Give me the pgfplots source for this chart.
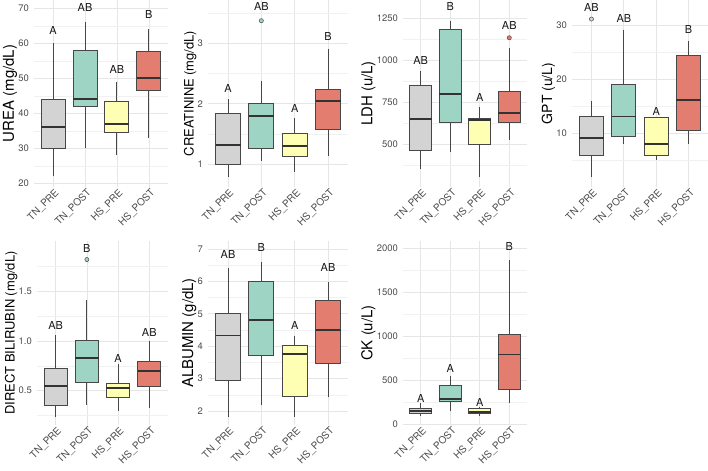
\documentclass[border=0pt]{standalone}
\usepackage{fontspec}
\setmainfont{TeX Gyre Heros}
\usepackage{pgfplots}
\pgfplotsset{compat=1.18}

% group fills
\definecolor{tnpre}{HTML}{D3D3D3}
\definecolor{tnpost}{HTML}{9DD4C4}
\definecolor{hspre}{HTML}{FFFFB3}
\definecolor{hspost}{HTML}{E27D70}
% lines and text
\definecolor{boxline}{HTML}{474747}
\definecolor{medline}{HTML}{333333}
\definecolor{gridmaj}{HTML}{E6E6E6}
\definecolor{gridmin}{HTML}{F1F1F1}
\definecolor{ticktext}{HTML}{4D4D4D}

\tikzset{lettr/.style={font=\fontsize{11}{12}\selectfont, text=black!90}}

\pgfplotsset{
  panel/.style={
    scale only axis, clip=false,
    xmin=0.4, xmax=4.6,
    xtick={1,2,3,4},
    xticklabels={TN\_PRE,TN\_POST,HS\_PRE,HS\_POST},
    axis line style={draw=none},
    major tick length=0pt, minor tick length=0pt,
    xmajorgrids, ymajorgrids, yminorgrids,
    major grid style={draw=gridmaj, line width=0.7pt},
    minor grid style={draw=gridmin, line width=0.4pt},
    tick label style={text=ticktext},
    xticklabel style={font=\fontsize{10}{11}\selectfont, rotate=45,
      anchor=north east, inner sep=0pt, yshift=-1.5bp},
    yticklabel style={font=\fontsize{9.5}{10}\selectfont, anchor=east,
      inner sep=0pt, xshift=-5bp},
    ylabel style={inner sep=1bp, text=black},
    /pgf/number format/assume math mode=true,
    /pgf/number format/1000 sep={},
    scaled y ticks=false,
  },
}

% one box at position #1 with fill #2:
% lower whisker #3, lower quartile #4, median #5, upper quartile #6, upper whisker #7
\newcommand{\bx}[7]{%
  \addplot[boxline, line width=1pt] coordinates {(#1,#3) (#1,#4)};
  \addplot[boxline, line width=1pt] coordinates {(#1,#6) (#1,#7)};
  \addplot[fill=#2, draw=boxline, line width=1pt]
    table[x expr=\thisrowno{0}+#1, y index=1, row sep=\\]
    {-0.375 #4\\ 0.375 #4\\ 0.375 #6\\ -0.375 #6\\} -- cycle;
  \addplot[medline, line width=1.9pt]
    table[x expr=\thisrowno{0}+#1, y index=1, row sep=\\]
    {-0.375 #5\\ 0.375 #5\\};
}
% an outlying observation at position #1, fill #2, value #3
\newcommand{\outl}[3]{%
  \addplot[only marks, mark=*, mark size=2.1pt,
    mark options={fill=#2, draw=boxline, line width=0.5pt}] coordinates {(#1,#3)};
}

\begin{document}
\begin{tikzpicture}
\useasboundingbox (0,0) rectangle (708bp,471bp);

% ---------------- UREA
\begin{axis}[panel, at={(34bp,284bp)}, anchor=south west, width=134bp, height=187bp,
  ymin=18.95, ymax=72.38, ytick={20,30,...,70}, minor ytick={25,35,...,65},
  ylabel={UREA (mg/dL)}, ylabel style={font=\fontsize{15}{16}\selectfont}]
\bx{1}{tnpre}{22}{30}{36}{44}{60}
\bx{2}{tnpost}{30}{42}{44}{58}{66}
\bx{3}{hspre}{28}{34.5}{37}{43.4}{49}
\bx{4}{hspost}{33}{46.5}{50}{57.7}{64}
\node[lettr] at (axis cs:1,63.8) {A};
\node[lettr] at (axis cs:2,70.3) {AB};
\node[lettr] at (axis cs:3,52.4) {AB};
\node[lettr] at (axis cs:4,68.1) {B};
\end{axis}

% ---------------- CREATININE
\begin{axis}[panel, at={(208bp,284bp)}, anchor=south west, width=140bp, height=187bp,
  ymin=0.619, ymax=3.718, ytick={1,2,3}, minor ytick={1.5,2.5,3.5},
  ylabel={CREATININE (mg/dL)}, ylabel style={font=\fontsize{13}{14}\selectfont}]
\bx{1}{tnpre}{0.79}{0.99}{1.315}{1.84}{2.08}
\bx{2}{tnpost}{1.055}{1.25}{1.80}{2.0}{2.38}
\outl{2}{tnpost}{3.375}
\bx{3}{hspre}{0.87}{1.12}{1.30}{1.51}{1.77}
\bx{4}{hspost}{1.14}{1.58}{2.04}{2.24}{2.90}
\node[lettr] at (axis cs:1,2.25) {A};
\node[lettr] at (axis cs:2,3.61) {AB};
\node[lettr] at (axis cs:3,1.92) {A};
\node[lettr] at (axis cs:4,3.11) {B};
\end{axis}

% ---------------- LDH
\begin{axis}[panel, at={(403bp,284bp)}, anchor=south west, width=124bp, height=187bp,
  ymin=247, ymax=1356, ytick={500,750,1000,1250}, minor ytick={375,625,875,1125},
  ylabel={LDH (u/L)}, ylabel style={font=\fontsize{15}{16}\selectfont}]
\bx{1}{tnpre}{352}{462}{652}{848}{935}
\bx{2}{tnpost}{456}{631}{798}{1182}{1231}
\bx{3}{hspre}{308}{500}{644}{656}{723}
\bx{4}{hspost}{526}{631}{688}{812}{1069}
\outl{4}{hspost}{1132}
\node[lettr] at (axis cs:1,1000) {AB};
\node[lettr] at (axis cs:2,1316) {B};
\node[lettr] at (axis cs:3,779) {A};
\node[lettr] at (axis cs:4,1207) {AB};
\end{axis}

% ---------------- GPT
\begin{axis}[panel, at={(572bp,284bp)}, anchor=south west, width=136bp, height=187bp,
  ymin=0.094, ymax=34.62, ytick={10,20,30}, minor ytick={5,15,25},
  ylabel={GPT (u/L)}, ylabel style={font=\fontsize{14}{15}\selectfont}]
\bx{1}{tnpre}{2.0}{6.0}{9.1}{13.1}{16.0}
\outl{1}{tnpre}{31.1}
\bx{2}{tnpost}{8.0}{9.5}{13.1}{19.05}{29.1}
\bx{3}{hspre}{5.1}{6.0}{8.0}{13.0}{13.0}
\bx{4}{hspost}{8.0}{10.6}{16.1}{24.3}{27.05}
\node[lettr] at (axis cs:1,33.3) {AB};
\node[lettr] at (axis cs:2,31.2) {AB};
\node[lettr] at (axis cs:3,14.1) {A};
\node[lettr] at (axis cs:4,29.1) {B};
\end{axis}

% ---------------- DIRECT BILIRUBIN
\begin{axis}[panel, at={(37bp,46bp)}, anchor=south west, width=131bp, height=184bp,
  ymin=0.154, ymax=2.007, ytick={0.5,1.0,1.5}, minor ytick={0.25,0.75,1.25,1.75},
  yticklabel style={/pgf/number format/.cd, fixed, fixed zerofill, precision=1, /tikz/.cd},
  ylabel={DIRECT BILIRUBIN (mg/dL)}, ylabel style={font=\fontsize{13}{14}\selectfont}]
\bx{1}{tnpre}{0.235}{0.352}{0.544}{0.725}{1.06}
\bx{2}{tnpost}{0.356}{0.577}{0.825}{1.0}{1.41}
\outl{2}{tnpost}{1.82}
\bx{3}{hspre}{0.30}{0.43}{0.523}{0.57}{0.765}
\bx{4}{hspost}{0.33}{0.544}{0.695}{0.795}{1.0}
\node[lettr] at (axis cs:1,1.16) {AB};
\node[lettr] at (axis cs:2,1.93) {B};
\node[lettr] at (axis cs:3,0.825) {A};
\node[lettr] at (axis cs:4,1.087) {AB};
\end{axis}

% ---------------- ALBUMIN
\begin{axis}[panel, at={(208bp,46bp)}, anchor=south west, width=140bp, height=184bp,
  ymin=1.568, ymax=7.247, ytick={2,3,...,7}, minor ytick={2.5,3.5,...,6.5},
  ylabel={ALBUMIN (g/dL)}, ylabel style={font=\fontsize{15}{16}\selectfont}]
\bx{1}{tnpre}{1.81}{2.93}{4.33}{5.01}{6.42}
\bx{2}{tnpost}{2.2}{3.72}{4.81}{6.0}{6.61}
\bx{3}{hspre}{1.81}{2.45}{3.77}{4.02}{4.31}
\bx{4}{hspost}{2.43}{3.47}{4.51}{5.41}{5.99}
\node[lettr] at (axis cs:1,6.84) {AB};
\node[lettr] at (axis cs:2,7.04) {B};
\node[lettr] at (axis cs:3,4.65) {A};
\node[lettr] at (axis cs:4,6.42) {AB};
\end{axis}

% ---------------- CK
\begin{axis}[panel, at={(403bp,46bp)}, anchor=south west, width=124bp, height=184bp,
  ymin=-12, ymax=2080, ytick={0,500,...,2000}, minor ytick={250,750,...,1750},
  ylabel={CK (u/L)}, ylabel style={font=\fontsize{15}{16}\selectfont}]
\bx{1}{tnpre}{94}{117}{150}{180}{233}
\bx{2}{tnpost}{147}{256}{282}{436}{545}
\bx{3}{hspre}{94}{117}{132}{180}{196}
\bx{4}{hspost}{237}{395}{790}{1015}{1869}
\node[lettr] at (axis cs:1,290) {A};
\node[lettr] at (axis cs:2,628) {A};
\node[lettr] at (axis cs:3,244) {A};
\node[lettr] at (axis cs:4,2012) {B};
\end{axis}
\end{tikzpicture}
\end{document}
